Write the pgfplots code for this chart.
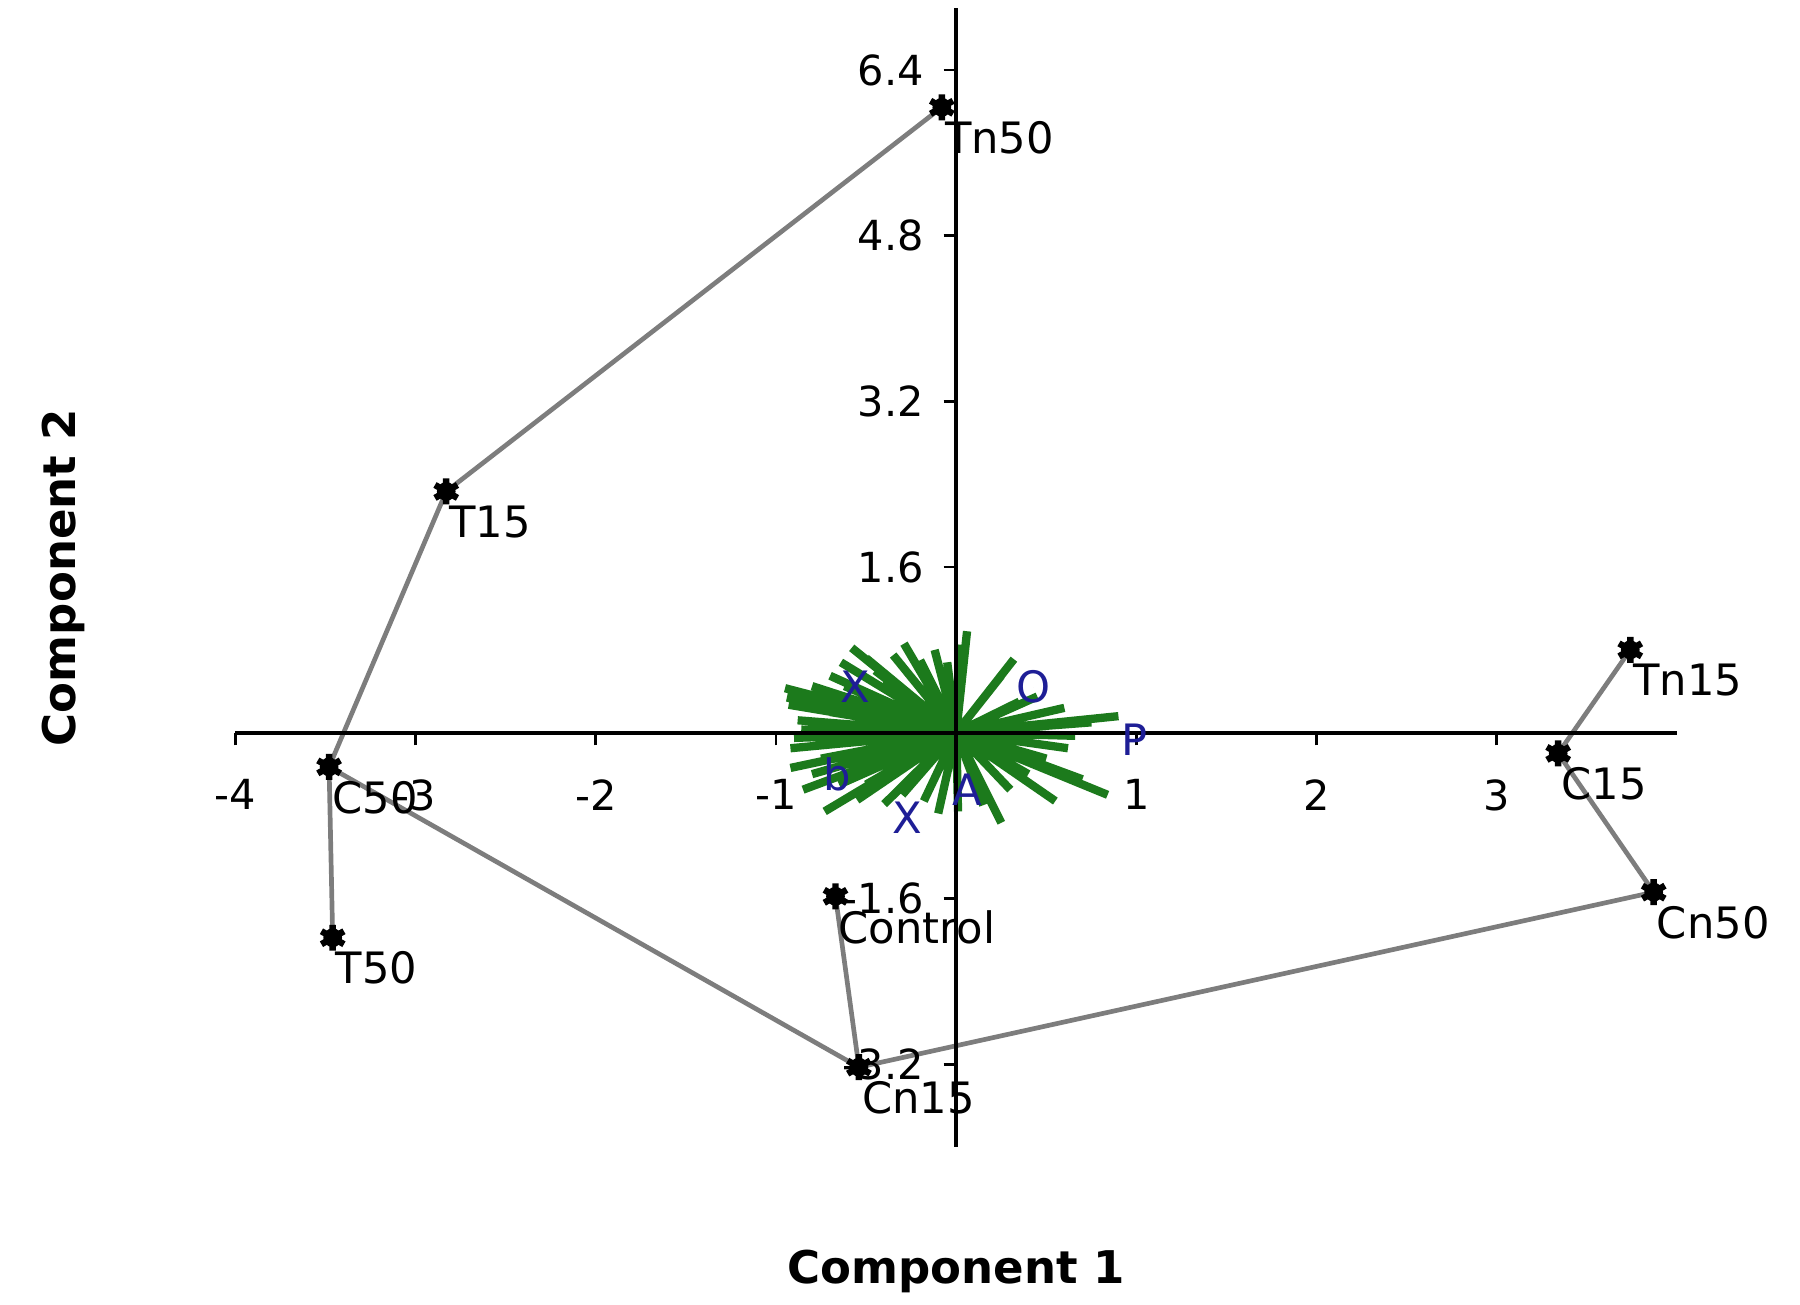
\documentclass[border=0pt]{standalone}
\usepackage{pgfplots}
\pgfplotsset{compat=1.18}
\usepackage{fontspec}
\setmainfont{DejaVu Sans}
\definecolor{vgreen}{RGB}{28,122,28}
\definecolor{vblue}{RGB}{30,30,150}
\definecolor{mstgray}{RGB}{125,125,125}
\begin{document}
\begin{tikzpicture}
\begin{axis}[
  scale only axis, width=400pt, height=316pt,
  xmin=-4, xmax=4, ymin=-4, ymax=7,
  axis lines=middle, axis line style={-, line width=1pt},
  axis on top, clip=false,
  xtick={-4,-3,-2,-1,1,2,3},
  ytick={-3.2,-1.6,1.6,3.2,4.8,6.4},
  tick align=outside, tick style={black, line width=0.8pt}, major tick length=3.5pt,
  /pgf/number format/assume math mode=true,
  yticklabel style={/pgf/number format/fixed, /pgf/number format/fixed zerofill, /pgf/number format/precision=1, font=\fontsize{11.5}{12}\selectfont, xshift=-2pt},
  xticklabel style={font=\fontsize{11.5}{12}\selectfont, yshift=-6pt},
  xlabel={Component 1}, ylabel={Component 2},
  xlabel style={at={(axis description cs:0.5,-0.109)}, anchor=center, font=\bfseries\fontsize{12.5}{13}\selectfont},
  ylabel style={at={(axis description cs:-0.119,0.5)}, anchor=center, rotate=90, font=\bfseries\fontsize{12.5}{13}\selectfont},
]
% loading vectors
\addplot[color=vgreen, line width=2.3pt, unbounded coords=jump] table[row sep=\\] {
x y\\
0 0\\ -0.95 0.43\\ nan nan\\
0 0\\ -0.94 0.34\\ nan nan\\
0 0\\ -0.93 0.27\\ nan nan\\
0 0\\ -0.85 0.30\\ nan nan\\
0 0\\ -0.58 0.82\\ nan nan\\
0 0\\ -0.64 0.68\\ nan nan\\
0 0\\ -0.50 0.72\\ nan nan\\
0 0\\ -0.29 0.86\\ nan nan\\
0 0\\ -0.35 0.75\\ nan nan\\
0 0\\ -0.20 0.70\\ nan nan\\
0 0\\ -0.05 0.68\\ nan nan\\
0 0\\ -0.70 0.55\\ nan nan\\
0 0\\ -0.80 0.45\\ nan nan\\
0 0\\ -0.45 0.60\\ nan nan\\
0 0\\ -0.75 0.38\\ nan nan\\
0 0\\ -0.62 0.45\\ nan nan\\
0 0\\ -0.40 0.50\\ nan nan\\
0 0\\ -0.88 0.12\\ nan nan\\
0 0\\ -0.70 0.20\\ nan nan\\
0 0\\ -0.12 0.80\\ nan nan\\
0 0\\ 0.06 0.98\\ nan nan\\
0 0\\ 0.03 0.85\\ nan nan\\
0 0\\ 0.32 0.71\\ nan nan\\
0 0\\ 0.25 0.55\\ nan nan\\
0 0\\ 0.45 0.35\\ nan nan\\
0 0\\ 0.60 0.24\\ nan nan\\
0 0\\ 0.90 0.16\\ nan nan\\
0 0\\ 0.75 0.10\\ nan nan\\
0 0\\ 0.66 -0.03\\ nan nan\\
0 0\\ 0.35 0.30\\ nan nan\\
0 0\\ 0.55 0.08\\ nan nan\\
0 0\\ 0.84 -0.60\\ nan nan\\
0 0\\ 0.70 -0.45\\ nan nan\\
0 0\\ 0.55 -0.66\\ nan nan\\
0 0\\ 0.40 -0.40\\ nan nan\\
0 0\\ 0.25 -0.87\\ nan nan\\
0 0\\ 0.15 -0.70\\ nan nan\\
0 0\\ 0.01 -0.76\\ nan nan\\
0 0\\ 0.50 -0.25\\ nan nan\\
0 0\\ 0.62 -0.15\\ nan nan\\
0 0\\ 0.30 -0.55\\ nan nan\\
0 0\\ -0.18 -0.66\\ nan nan\\
0 0\\ -0.30 -0.60\\ nan nan\\
0 0\\ -0.40 -0.69\\ nan nan\\
0 0\\ -0.55 -0.65\\ nan nan\\
0 0\\ -0.73 -0.76\\ nan nan\\
0 0\\ -0.65 -0.50\\ nan nan\\
0 0\\ -0.80 -0.40\\ nan nan\\
0 0\\ -0.92 -0.34\\ nan nan\\
0 0\\ -0.92 -0.15\\ nan nan\\
0 0\\ -0.86 0.03\\ nan nan\\
0 0\\ -0.90 -0.05\\ nan nan\\
0 0\\ -0.75 -0.25\\ nan nan\\
0 0\\ -0.60 -0.30\\ nan nan\\
0 0\\ -0.50 -0.50\\ nan nan\\
0 0\\ -0.85 -0.55\\ nan nan\\
0 0\\ -0.35 -0.40\\ nan nan\\
0 0\\ -0.10 -0.78\\ nan nan\\
0 0\\ -0.70 -0.10\\
};
% variable labels
\addplot[only marks, mark=*, mark size=0pt, nodes near coords, point meta=explicit symbolic,
  nodes near coords style={anchor=center, text=vblue, inner sep=0pt, font=\fontsize{12}{12}\selectfont}]
  table[meta=label, row sep=\\] {
x y label\\
-0.56 0.44 X\\
0.43 0.44 O\\
0.99 -0.07 P\\
-0.27 -0.82 X\\
0.06 -0.55 A\\
-0.66 -0.40 b\\
};
% minimum spanning tree
\addplot[color=mstgray, line width=1.3pt, unbounded coords=jump] table[row sep=\\] {
x y\\
-0.08 6.04\\ -2.83 2.33\\ -3.48 -0.33\\ -3.46 -1.98\\ nan nan\\
-3.48 -0.33\\ -0.54 -3.23\\ -0.67 -1.58\\ nan nan\\
-0.54 -3.23\\ 3.87 -1.54\\ 3.34 -0.20\\ 3.74 0.80\\
};
% treatment markers
\addplot[only marks, mark=*, mark size=2.4pt, mark options={black, fill=black}]
  table[row sep=\\] {
x y\\
-0.08 6.04\\ -2.83 2.33\\ -3.48 -0.33\\ -3.46 -1.98\\ -0.67 -1.58\\
-0.54 -3.23\\ 3.87 -1.54\\ 3.34 -0.20\\ 3.74 0.80\\
};
\addplot[only marks, mark=asterisk, mark size=3.6pt, mark options={black, line width=1.8pt},
  nodes near coords, point meta=explicit symbolic,
  nodes near coords style={anchor=north west, inner sep=0pt, xshift=0pt, yshift=-3pt, text=black, font=\fontsize{12}{12}\selectfont}]
  table[meta=label, row sep=\\] {
x y label\\
-0.08 6.04 Tn50\\
-2.83 2.33 T15\\
-3.48 -0.33 C50\\
-3.46 -1.98 T50\\
-0.67 -1.58 Control\\
-0.54 -3.23 Cn15\\
3.87 -1.54 Cn50\\
3.34 -0.20 C15\\
3.74 0.80 Tn15\\
};
\end{axis}
\path (current axis.south west) ++(-65.3pt,-43.7pt) rectangle ++(499.4pt,361.9pt);
\end{tikzpicture}
\end{document}
